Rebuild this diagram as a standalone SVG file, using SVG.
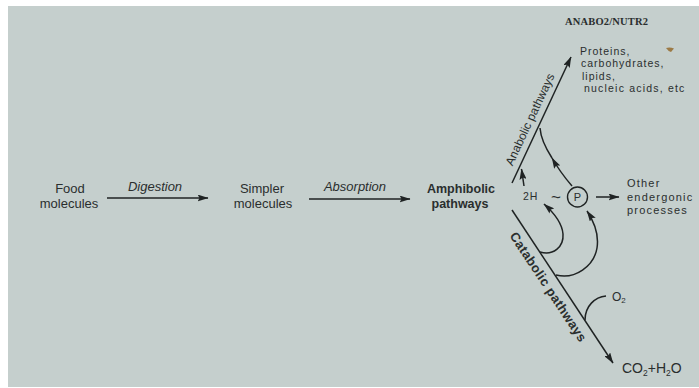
<svg xmlns="http://www.w3.org/2000/svg" width="699" height="388" viewBox="0 0 699 388">
<style>
.t{font-family:"Liberation Sans",Arial,sans-serif;fill:#2a2e2e}
.m{font-size:13px}
.i{font-size:13px;font-style:italic}
.b{font-size:12.5px;font-weight:bold}
.s{font-size:10.5px;letter-spacing:1px}
.ln{fill:none;stroke:#1f2323;stroke-width:1.5}
</style>
<defs>
<marker id="ah" markerUnits="userSpaceOnUse" markerWidth="11" markerHeight="7" refX="10.5" refY="3.5" orient="auto">
<path d="M0,0 L11,3.5 L0,7 L2,3.5 z" fill="#1f2323"/>
</marker>
</defs>
<rect width="699" height="388" fill="#ffffff"/>
<rect x="8" y="6" width="691" height="381" fill="#c5cfcd"/>
<path d="M666,48 Q670,47 674,48.5 L671,52 Q668,51 666,48 Z" fill="#9c7a45"/>
<text class="t" x="565" y="24.5" textLength="83" lengthAdjust="spacing" style="font-family:'Liberation Serif','Times New Roman',serif;font-size:10.5px;font-weight:bold">ANABO2/NUTR2</text>
<g id="food"><text class="t m" text-anchor="middle"><tspan x="70" y="193">Food</tspan><tspan x="69" y="208">molecules</tspan></text></g>
<g id="simpler"><text class="t m" text-anchor="middle"><tspan x="262" y="193">Simpler</tspan><tspan x="263" y="208">molecules</tspan></text></g>
<g id="amphibolic"><text class="t b" text-anchor="middle"><tspan x="461" y="193">Amphibolic</tspan><tspan x="460" y="208">pathways</tspan></text></g>
<g id="products"><text class="t s"><tspan x="580" y="54.5">Proteins,</tspan><tspan x="581" y="67">carbohydrates,</tspan><tspan x="582" y="79.5">lipids,</tspan><tspan x="584" y="92" style="letter-spacing:1.2px">nucleic acids, etc</tspan></text></g>
<g id="other"><text class="t s" style="font-size:11px;letter-spacing:1.2px"><tspan x="627" y="187">Other</tspan><tspan x="627" y="200.5">endergonic</tspan><tspan x="627" y="214">processes</tspan></text></g>
<g id="h2"><text class="t" x="523" y="200" style="font-size:10.5px;letter-spacing:0.8px">2H</text></g>
<g id="tilde"><text class="t" x="556" y="203" text-anchor="middle" style="font-size:17px">~</text></g>
<g id="p"><circle cx="577.5" cy="197" r="10" fill="none" stroke="#1f2323" stroke-width="1.4"/><text class="t" x="577.5" y="201" text-anchor="middle" style="font-size:11px">P</text></g>
<g id="o2"><text class="t" x="612" y="300.7" style="font-size:12px">O<tspan dy="2.5" style="font-size:8px">2</tspan></text></g>
<g id="co2"><text class="t" x="622" y="372.7" style="font-size:14px">CO<tspan dy="3" style="font-size:8.5px">2</tspan><tspan dy="-3">+H</tspan><tspan dy="3" style="font-size:8.5px">2</tspan><tspan dy="-3">O</tspan></text></g>
<g id="connectors">
<line class="ln" x1="107" y1="198" x2="208" y2="198" marker-end="url(#ah)"/>
<text class="t i" x="155" y="191" text-anchor="middle">Digestion</text>
<line class="ln" x1="309" y1="199" x2="410" y2="199" marker-end="url(#ah)"/>
<text class="t i" x="355" y="191" text-anchor="middle">Absorption</text>
<line class="ln" x1="512" y1="183" x2="571" y2="57" marker-end="url(#ah)"/>
<text class="t" transform="translate(533.6,121.1) rotate(-64.9)" text-anchor="middle" style="font-size:12px">Anabolic pathways</text>
<line class="ln" x1="512" y1="210" x2="613" y2="363" marker-end="url(#ah)"/>
<text class="t" transform="translate(544.6,289.4) rotate(56.6)" text-anchor="middle" style="font-size:13px;font-weight:bold;letter-spacing:0.4px">Catabolic pathways</text>
<line class="ln" x1="596" y1="197" x2="619" y2="197" marker-end="url(#ah)"/>
<path class="ln" d="M524,186 L521.5,169" marker-end="url(#ah)"/>
<path class="ln" d="M572,186 Q560,172 552,158" marker-end="url(#ah)"/>
<path class="ln" d="M552,158 Q541,141 540,128"/>
<path class="ln" d="M540,252 C553,256 564,247 563,234 C562,222 553,212 544,204" marker-end="url(#ah)"/>
<path class="ln" d="M556,275 C575,280 594,266 597,248 C599,235 595,223 587,211" marker-end="url(#ah)"/>
<path class="ln" d="M585,320 C585,306 595,297 606,296"/>
</g>
</svg>
